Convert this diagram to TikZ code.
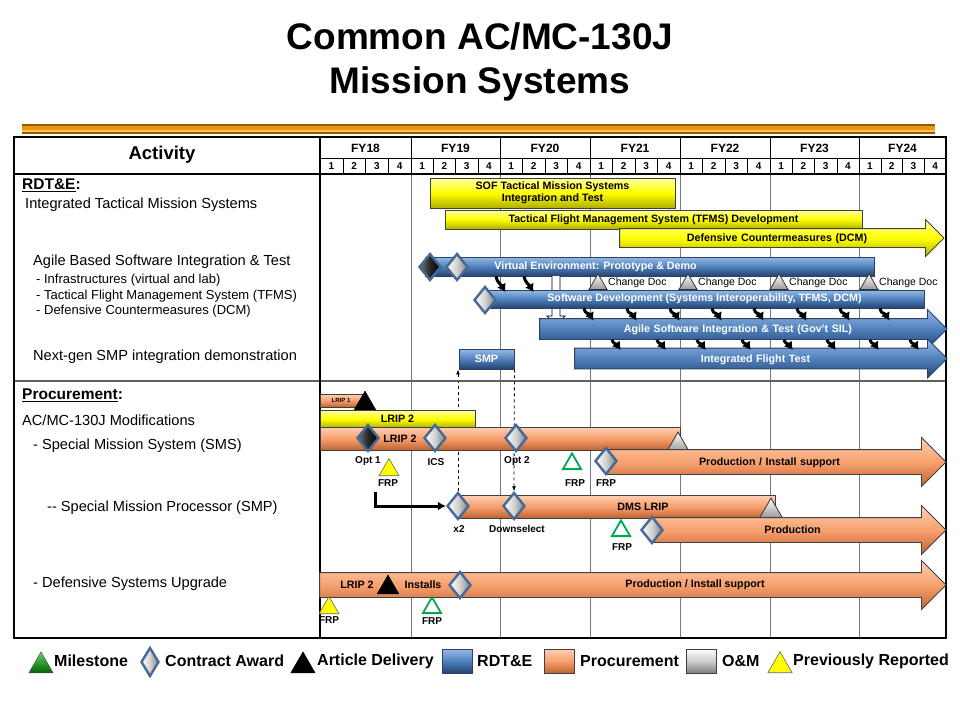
\documentclass[tikz,border=0pt]{standalone}
\usepackage{fontspec}
\setmainfont{Liberation Sans}
\usetikzlibrary{shapes.geometric,shapes.arrows,arrows.meta,backgrounds,positioning}

\definecolor{rdtblue}{RGB}{79,129,189}
\definecolor{rdtdark}{RGB}{38,66,110}
\definecolor{rdtlight}{RGB}{150,186,228}
\definecolor{procorange}{RGB}{248,160,110}
\definecolor{procdark}{RGB}{190,100,50}
\definecolor{proclight}{RGB}{253,208,180}
\definecolor{prevyellow}{RGB}{255,255,0}
\definecolor{prevdark}{RGB}{175,175,0}
\definecolor{prevlight}{RGB}{255,255,160}
\definecolor{steel}{RGB}{70,106,150}
\definecolor{msgreen}{RGB}{0,168,80}
\definecolor{gridgray}{RGB}{120,120,120}
\definecolor{golddark}{RGB}{150,90,10}
\definecolor{goldmid}{RGB}{232,150,20}
\definecolor{goldlight}{RGB}{248,196,70}

\begin{document}
\begin{tikzpicture}[x=1pt, y=-1pt,
    rdtbar/.style={draw=rdtdark, line width=0.9pt, top color=rdtlight, bottom color=rdtdark, middle color=rdtblue, inner sep=0pt},
    procbar/.style={draw=black!75, line width=0.9pt, top color=proclight, bottom color=procdark, middle color=procorange, inner sep=0pt},
    prevbar/.style={draw=black!75, line width=0.9pt, top color=prevlight, bottom color=prevdark, middle color=prevyellow, inner sep=0pt},
    arrowbar/.style={single arrow, single arrow tip angle=90, minimum width=0pt, minimum height=0pt, align=center},
    shaftthin/.style={text height=12.75pt, text depth=5.25pt, single arrow head extend=9pt},
    shaftmid/.style={text height=13.75pt, text depth=6.25pt, single arrow head extend=9pt},
    shaftwide/.style={text height=15.75pt, text depth=8.25pt, single arrow head extend=12pt},
    barlabel/.style={font=\bfseries\fontsize{10.7}{12.5}\selectfont, inner sep=0pt},
    smalllabel/.style={font=\bfseries\fontsize{10}{12}\selectfont, inner sep=0pt},
    award/.style={diamond, aspect=0.8, draw=steel, line width=2.4pt, left color=white, right color=black!50, middle color=black!18, inner sep=0pt, minimum width=22pt, minimum height=27pt},
    awardblack/.style={award, left color=black!55, right color=black, middle color=black!85},
    tri/.style={regular polygon, regular polygon sides=3, inner sep=0pt, minimum size=#1, anchor=south},
    omtri/.style={tri=#1, draw=black!80, line width=0.8pt, top color=white, bottom color=black!40},
    mstri/.style={tri=#1, draw=msgreen, line width=1.8pt, fill=white},
    prevtri/.style={tri=#1, draw=black!60, line width=0.6pt, fill=prevyellow},
    arttri/.style={tri=#1, draw=black, fill=black},
    bendarr/.style={line width=3pt, shorten >=-3pt, -{Latex[length=8pt,width=10pt]}},
    dashlink/.style={dashed, line width=0.8pt, -{Latex[length=5pt,width=4pt]}},
    elbowarr/.style={line width=3pt, -{Latex[length=8pt,width=9pt]}},
    lefttext/.style={font=\fontsize{14.6}{16}\selectfont, anchor=west, inner sep=0pt},
    subtext/.style={font=\fontsize{13}{14}\selectfont, anchor=west, inner sep=0pt},
    sectfont/.style={font=\bfseries\fontsize{15.5}{18}\selectfont, anchor=west, inner sep=0pt},
    legfont/.style={font=\bfseries\fontsize{16}{18}\selectfont, anchor=west, inner sep=0pt},
    legbox/.style={minimum width=30pt, minimum height=24pt, inner sep=0pt}
]
\useasboundingbox (0,0) rectangle (960,720);

% title and gold rule
\node[font=\bfseries\fontsize{37}{44}\selectfont, align=center] (title) at (480,62) {Common AC/MC-130J\\Mission Systems};
\fill[golddark] (22,124) rectangle (935,134);
\fill[goldmid] (22,126) rectangle (935,129.5);
\fill[goldlight] (22,129.5) rectangle (935,131.5);

% grid
\draw[gridgray, line width=1pt] \foreach \xl in {411,500,590,680,770,859} {(\xl,174) -- (\xl,638)};
\draw[gridgray!80!black, line width=1.6pt] (14,381) -- (946,381);
\draw[line width=1pt] (320,158) -- (946,158);
\draw[line width=1.2pt] (14,174) -- (946,174);
\draw[line width=1.2pt] (320,137) -- (320,638);
\foreach \xs/\xe/\fy in {320/411/18,411/500/19,500/590/20,590/680/21,680/770/22,770/859/23,859/946/24}{
  \draw[line width=1pt] (\xs,137) -- (\xs,174);
  \node[font=\bfseries\fontsize{12}{14}\selectfont] (fy\fy) at ({(\xs+\xe)/2},148) {FY\fy};
  \foreach \k in {1,...,4}
    \node[smalllabel] (q\fy\k) at ({\xs+(\k-0.5)*(\xe-\xs)/4},166) {\k};
  \foreach \k in {1,2,3}
    \draw (\xs+\k*\xe/4-\k*\xs/4,158) -- ++(0,16);
}
\draw[line width=2pt] (14,137) rectangle (946,638);

% activity column
\node[font=\bfseries\fontsize{18.5}{20}\selectfont] (activity) at (162,155) {Activity};
\node[sectfont] (rdte) at (22,185) {\underline{RDT\&E}:};
\node[lefttext] (itms) at (25,205) {Integrated Tactical Mission Systems};
\node[lefttext] (agiletxt) at (33,262) {Agile Based Software Integration \& Test};
\node[subtext] (sub1) at (36,280) {- Infrastructures (virtual and lab)};
\node[subtext] (sub2) at (36,296) {- Tactical Flight Management System (TFMS)};
\node[subtext] (sub3) at (36,311) {- Defensive Countermeasures (DCM)};
\node[lefttext] (nextgen) at (33,357) {Next-gen SMP integration demonstration};
\node[sectfont] (proc) at (22,395) {\underline{Procurement}:};
\node[lefttext] (mods) at (22,420) {AC/MC-130J Modifications};
\node[lefttext] (smstxt) at (33,446) {- Special Mission System (SMS)};
\node[lefttext] (smptxt) at (47,508) {-{}- Special Mission Processor (SMP)};
\node[lefttext] (dsutxt) at (33,584) {- Defensive Systems Upgrade};

% RDT&E bars
\node[prevbar, barlabel, align=center, minimum width=245pt, minimum height=30pt] (sof) at (552.5,193) {SOF Tactical Mission Systems\\Integration and Test};
\node[prevbar, barlabel, minimum width=417pt, minimum height=19pt] (tfms) at (653.5,219.5) {Tactical Flight Management System (TFMS) Development};
\node[arrowbar, shaftthin, prevbar, barlabel, text width=314pt] (dcm) at (777,238) {Defensive Countermeasures (DCM)\hspace*{16pt}};

\node[rdtbar, minimum width=449pt, minimum height=19pt] (ve) at (649.5,266.5) {};
\node[barlabel, text=white] (velabel) at (595.5,266.5) {Virtual Environment: Prototype \& Demo};
\foreach \x [count=\i] in {598,688,779,869}{
  \node[omtri=21pt] (cd\i) at (\x,290) {};
  \node[font=\fontsize{10.5}{12}\selectfont, anchor=west, inner sep=0pt] (cdt\i) at (\x+10,283) {Change Doc};
}

% hollow hand-off arrow, behind the software bar
\filldraw[fill=white, draw=black, line width=0.8pt] (552,276) -- (552,316) -- (547,316) -- (556,326) -- (565,316) -- (560,316) -- (560,276);

\node[rdtbar, barlabel, text=white, minimum width=439pt, minimum height=18pt] (sw) at (704.5,299) {Software Development (Systems Interoperability, TFMS, DCM)};
\node[arrowbar, shaftmid, rdtbar, barlabel, text=white, text width=396pt] (agile) at (738,329) {Agile Software Integration \& Test (Gov't SIL)};
\node[rdtbar, barlabel, text=white, minimum width=55pt, minimum height=20pt] (smp) at (486.5,359) {SMP};
\node[arrowbar, shaftmid, rdtbar, barlabel, text=white, text width=361pt] (ift) at (755.5,358.5) {Integrated Flight Test};

\node[awardblack] (vestart) at (430,267) {};
\node[award] (vedemo) at (457,267) {};
\node[award] (swstart) at (485,300) {};

% flow arrows between bars
\foreach \x in {496,524}
  \draw[bendarr] (\x,0 |- ve.south) .. controls +(1,6) and +(-3,-5) .. (\x+8,0 |- sw.north);
\foreach \x in {584,627,670,712,754,797,840,880}
  \draw[bendarr] (\x,0 |- sw.south) .. controls +(1,6) and +(-3,-5) .. (\x+8,0 |- agile.north);
\foreach \x in {612,657,697,742,784,827,870,910}
  \draw[bendarr] (\x,0 |- agile.south) .. controls +(1,4) and +(-3,-4) .. (\x+7,0 |- ift.north);

% procurement bars
\node[procbar, font=\bfseries\fontsize{6}{7}\selectfont, minimum width=42pt, minimum height=13pt] (lrip1) at (341,400.5) {LRIP 1};
\node[arttri=25pt] (art1) at (365,410) {};
\node[prevbar, barlabel, minimum width=155pt, minimum height=18pt] (lripy) at (397.5,419) {LRIP 2};
\node[procbar, minimum width=360pt, minimum height=23pt] (lripo) at (500,438.5) {};
\node[barlabel] (lripolabel) at (400,438.5) {LRIP 2};
\node[omtri=26pt] (omsms) at (678,452) {};
\node[awardblack] (opt1) at (368,438) {};
\node[award] (ics) at (435,438) {};
\node[award] (opt2) at (516,438) {};
\node[smalllabel] (opt1t) at (368,461) {Opt 1};
\node[smalllabel] (icst) at (436,462) {ICS};
\node[smalllabel] (opt2t) at (517,461) {Opt 2};
\node[prevtri=23pt] (prevfrp1) at (389,476) {};
\node[smalllabel] (prevfrp1t) at (388,483) {FRP};
\node[mstri=21pt] (msfrp1) at (572,470) {};
\node[smalllabel] (msfrp1t) at (575,483) {FRP};

\node[arrowbar, shaftwide, procbar, barlabel, text width=327pt] (prod1) at (769.5,462) {Production / Install support};
\node[award] (prod1aw) at (606,461) {};
\node[smalllabel] (prod1t) at (606,483) {FRP};

\node[procbar, minimum width=318pt, minimum height=23pt] (dms) at (616,506.5) {};
\node[barlabel] (dmslabel) at (643,506.5) {DMS LRIP};
\node[omtri=26pt] (omdms) at (771,518) {};
\node[award] (x2) at (458,506) {};
\node[award] (dsel) at (514,506) {};
\node[smalllabel] (x2t) at (459,529) {x2};
\node[smalllabel] (dselt) at (517,529) {Downselect};
\node[mstri=21pt] (msfrp2) at (621,537) {};
\node[smalllabel] (msfrp2t) at (622,547) {FRP};

\node[arrowbar, shaftwide, procbar, barlabel, text width=281pt] (prod2) at (792.5,530) {Production};
\node[award] (prod2aw) at (652,530) {};

\node[arrowbar, shaftwide, procbar, text width=613pt] (dsu) at (626.5,585) {};
\node[barlabel] (dsul1) at (357,585) {LRIP 2};
\node[arttri=25pt] (art2) at (388,594) {};
\node[barlabel] (dsul2) at (423,585) {Installs};
\node[award] (dsuaw) at (460,585) {};
\node[barlabel] (dsul3) at (695,585) {Production / Install support};
\node[prevtri=23pt] (prevfrp2) at (329,614) {};
\node[smalllabel] (prevfrp2t) at (329,620) {FRP};
\node[mstri=21pt] (msfrp3) at (432,614) {};
\node[smalllabel] (msfrp3t) at (432,621) {FRP};

% links into the SMP work
\begin{scope}[on background layer]
  \draw[dashlink] (x2.north) -- (x2.north |- smp.south);
  \draw[dashlink] (smp.south east) -- (dsel.north);
\end{scope}
\coordinate (lstart) at (375,492);
\draw[elbowarr] (lstart) |- (x2.west);

% legend
\node[tri=28pt, draw=black!70, top color=green!70!black!60, bottom color=green!40!black] (legms) at (41,673) {};
\node[legfont] (legmst) at (54,661) {Milestone};
\node[award, minimum width=18pt, minimum height=29pt] (legaw) at (150,662) {};
\node[legfont] (legawt) at (165,661) {Contract Award};
\node[arttri=28pt] (legart) at (303,673) {};
\node[legfont] (legartt) at (317,661) {Article Delivery};
\node[legbox, rdtbar] (legrdt) at (457,661) {};
\node[legfont] (legrdtt) at (477,661) {RDT\&E};
\node[legbox, procbar] (legproc) at (559.5,661) {};
\node[legfont] (legproct) at (580,661) {Procurement};
\node[legbox, draw=black!75, line width=0.9pt, top color=white, bottom color=black!50, middle color=black!20] (legom) at (701,661) {};
\node[legfont] (legomt) at (722,661) {O\&M};
\node[prevtri=28pt] (legprev) at (780,673) {};
\node[legfont] (legprevt) at (793,661) {Previously Reported};
\end{tikzpicture}
\end{document}
